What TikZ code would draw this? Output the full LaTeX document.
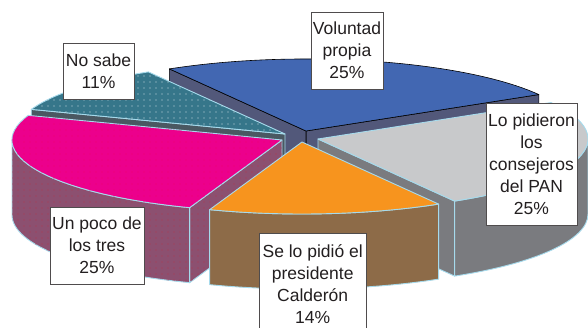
\documentclass[tikz,border=0pt]{standalone}
\usepackage{fontspec}
\setmainfont{Liberation Sans}
\usetikzlibrary{patterns.meta}

\definecolor{volTop}{RGB}{66,103,178}
\definecolor{volSide}{RGB}{82,88,122}
\definecolor{nsTop}{RGB}{54,118,138}
\definecolor{nsSide}{RGB}{74,88,98}
\definecolor{panTop}{RGB}{200,201,203}
\definecolor{panSide}{RGB}{122,123,127}
\definecolor{tresTop}{RGB}{236,0,140}
\definecolor{tresSide}{RGB}{140,80,112}
\definecolor{fchTop}{RGB}{247,148,30}
\definecolor{fchSide}{RGB}{141,107,72}
\definecolor{rim}{RGB}{166,218,236}
\definecolor{ink}{RGB}{35,31,32}

\tikzset{
  pct/.style={draw=ink!80, line width=0.7pt, fill=white, text=ink, align=center,
    inner sep=2pt, font=\fontsize{17.5}{22}\selectfont},
  rimline/.style={draw=rim, line width=0.9pt, line join=round},
  blackline/.style={draw=black, line width=0.6pt, line join=round},
  dotted fill/.style={postaction={pattern={Dots[distance=6pt, radius=0.7pt]}, pattern color=#1}}
}

\begin{document}
\begin{tikzpicture}[x=1pt, y=1pt]
			\useasboundingbox (0,0) rectangle (588,328);
			% centres of the exploded slices
			\coordinate (vol) at (306,197);
			\coordinate (ns) at (285,194);
			\coordinate (pan) at (318,189);
			\coordinate (tres) at (282,188);
			\coordinate (fch) at (302,186);
			
			% Voluntad propia
			\filldraw[blackline, fill=volSide] (vol) -- ++(30.4:270pt and 72pt) -- ++(0,-75) -- ++(210.4:270pt and 72pt) -- cycle;
			\filldraw[blackline, fill=volSide] (vol) -- ++(120.4:270pt and 72pt) -- ++(0,-75) -- ++(300.4:270pt and 72pt) -- cycle;
			\filldraw[blackline, fill=volTop] (vol) -- ++(30.4:270pt and 72pt) arc[start angle=30.4, end angle=120.4, x radius=270pt, y radius=72pt] -- cycle;
			
			% No sabe
			\filldraw[rimline, fill=nsSide] (ns) -- ++(160:270pt and 72pt) -- ++(0,-75) -- ++(340:270pt and 72pt) -- cycle;
			\filldraw[rimline, fill=nsTop, dotted fill=white!75!nsTop] (ns) -- ++(120.4:270pt and 72pt) arc[start angle=120.4, end angle=160, x radius=270pt, y radius=72pt] -- cycle;
			
			% Lo pidieron los consejeros del PAN
			\filldraw[rimline, fill=panSide] (pan) -- ++(-59.6:270pt and 72pt) -- ++(0,-75) -- ++(120.4:270pt and 72pt) -- cycle;
			\filldraw[rimline, fill=panSide] (pan) ++(-59.6:270pt and 72pt) arc[start angle=-59.6, end angle=0, x radius=270pt, y radius=72pt] -- ++(0,-75) arc[start angle=0, end angle=-59.6, x radius=270pt, y radius=72pt] -- cycle;
			\filldraw[rimline, fill=panTop] (pan) -- ++(-59.6:270pt and 72pt) arc[start angle=-59.6, end angle=30.4, x radius=270pt, y radius=72pt] -- cycle;
			
			% Un poco de los tres
			\filldraw[rimline, fill=tresSide, dotted fill=tresSide!70!red] (tres) -- ++(250:270pt and 72pt) -- ++(0,-75) -- ++(70:270pt and 72pt) -- cycle;
			\filldraw[rimline, fill=tresSide, dotted fill=tresSide!70!red] (tres) ++(180:270pt and 72pt) arc[start angle=180, end angle=250, x radius=270pt, y radius=72pt] -- ++(0,-75) arc[start angle=250, end angle=180, x radius=270pt, y radius=72pt] -- cycle;
			\filldraw[rimline, fill=tresTop, dotted fill=tresTop!80!red] (tres) -- ++(160:270pt and 72pt) arc[start angle=160, end angle=250, x radius=270pt, y radius=72pt] -- cycle;
			
			% Se lo pidio el presidente
			\filldraw[rimline, fill=fchSide] (fch) ++(250:270pt and 72pt) arc[start angle=250, end angle=300.4, x radius=270pt, y radius=72pt] -- ++(0,-75) arc[start angle=300.4, end angle=250, x radius=270pt, y radius=72pt] -- cycle;
			\filldraw[rimline, fill=fchTop] (fch) -- ++(250:270pt and 72pt) arc[start angle=250, end angle=300.4, x radius=270pt, y radius=72pt] -- cycle;
			
			\node[pct, minimum width=72, minimum height=77] (volLbl) at (347,277.5) {Voluntad\\propia\\25\%};
			\node[pct, minimum width=71, minimum height=56] (nsLbl) at (98.5,257) {No sabe\\11\%};
			\node[pct, minimum width=91, minimum height=122] (panLbl) at (531.5,164) {Lo pidieron\\los\\consejeros\\del PAN\\25\%};
			\node[pct, minimum width=94, minimum height=77] (tresLbl) at (97,82.5) {Un poco de\\los tres\\25\%};
			\node[pct, minimum width=107, minimum height=100, anchor=north] (fchLbl) at (312.7,94.7) {Se lo pidió el\\presidente\\Calderón\\14\%};
		\end{tikzpicture}
\end{document}
